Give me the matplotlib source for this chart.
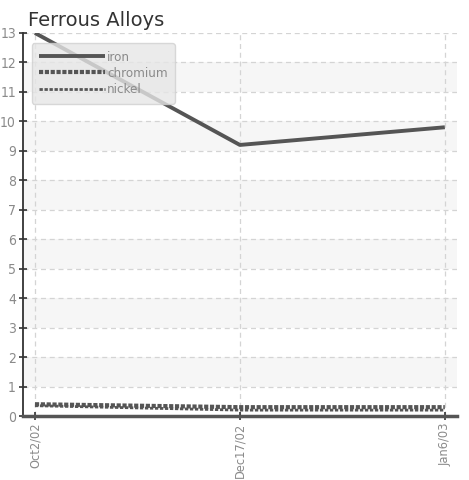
import matplotlib.pyplot as plt
from matplotlib.patches import Rectangle
from matplotlib import font_manager

dates = ["Oct2/02", "Dec17/02", "Jan6/03"]
iron = [13.0, 9.2, 9.8]
chromium = [0.4, 0.3, 0.3]
nickel = [0.35, 0.2, 0.2]
yticks = list(range(0, 14))

tick_font = font_manager.FontProperties(family="DejaVu Sans", stretch="condensed", size=10)
xtick_font = font_manager.FontProperties(family="DejaVu Sans", stretch="condensed", size=9.2)
leg_font = font_manager.FontProperties(family="DejaVu Sans", stretch="condensed", size=9.5)
tick_color = "#8a8a8a"

fig = plt.figure(figsize=(4.69, 4.80), dpi=100)
ax = fig.add_axes([0.049, 0.1333, 0.925, 0.798])

x = list(range(len(dates)))
ax.set_xlim(-0.0585, 2.0585)
ax.set_ylim(0, 13)

# alternating bands
for lo in range(1, 13, 2):
    ax.add_patch(Rectangle((-0.0585, lo), 2.117, 1, facecolor="#f6f6f6",
                           edgecolor="none", zorder=0))

ax.grid(True, linestyle=(0, (4, 3)), color="#d4d4d4", linewidth=0.9, zorder=1)

ax.plot(x, iron, color="#555555", linewidth=2.8, label="iron", zorder=3,
        solid_capstyle="butt")
ax.plot(x, chromium, color="#555555", linewidth=3.0, label="chromium", zorder=3,
        linestyle=(0, (1.0, 0.4)))
ax.plot(x, nickel, color="#555555", linewidth=2.0, label="nickel", zorder=3,
        linestyle=(0, (1.2, 0.6)))

ax.set_xticks(x)
ax.set_xticklabels(dates, rotation=90, fontproperties=xtick_font, color=tick_color)
ax.set_yticks(yticks)
ax.set_yticklabels([str(v) for v in yticks], fontproperties=tick_font,
                   color=tick_color)
ax.tick_params(axis="both", direction="inout", length=6, width=1.2,
               color="#333333", pad=2)

for side in ["top", "right"]:
    ax.spines[side].set_visible(False)
ax.spines["left"].set_color("#333333")
ax.spines["left"].set_linewidth(1.3)
ax.spines["bottom"].set_color("#555555")
ax.spines["bottom"].set_linewidth(2.5)

leg = ax.legend(loc="upper left", bbox_to_anchor=(0.005, 0.99), frameon=True,
                fancybox=True, framealpha=0.8, facecolor="#e6e6e6",
                edgecolor="#d0d0d0", handlelength=5.0, handletextpad=0.15,
                labelspacing=0.25, borderpad=0.55, prop=leg_font)
for t in leg.get_texts():
    t.set_color(tick_color)
leg.set_zorder(5)

fig.text(0.06, 0.978, "Ferrous Alloys", fontsize=14, color="#333333",
         va="top", ha="left")

fig.savefig("out.png", dpi=100)
